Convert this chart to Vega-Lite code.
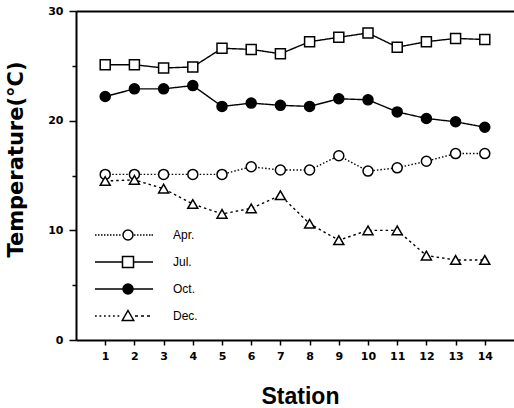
{
  "$schema": "https://vega.github.io/schema/vega-lite/v6.json",
  "autosize": "none",
  "padding": {"left": 76, "top": 11, "right": 0, "bottom": 68},
  "width": 438,
  "height": 329,
  "config": {
    "view": {"stroke": null},
    "font": "Liberation Sans",
    "axis": {"domainColor": "black", "tickColor": "black", "labelColor": "black", "titleColor": "black", "grid": false, "labelFont": "DejaVu Sans", "titleFont": "Liberation Sans"}
  },
  "data": {
    "values": [
      {"station": 1, "series": "Apr.", "temp": 15.1},
      {"station": 2, "series": "Apr.", "temp": 15.1},
      {"station": 3, "series": "Apr.", "temp": 15.1},
      {"station": 4, "series": "Apr.", "temp": 15.1},
      {"station": 5, "series": "Apr.", "temp": 15.1},
      {"station": 6, "series": "Apr.", "temp": 15.8},
      {"station": 7, "series": "Apr.", "temp": 15.5},
      {"station": 8, "series": "Apr.", "temp": 15.5},
      {"station": 9, "series": "Apr.", "temp": 16.8},
      {"station": 10, "series": "Apr.", "temp": 15.4},
      {"station": 11, "series": "Apr.", "temp": 15.7},
      {"station": 12, "series": "Apr.", "temp": 16.3},
      {"station": 13, "series": "Apr.", "temp": 17.0},
      {"station": 14, "series": "Apr.", "temp": 17.0},
      {"station": 1, "series": "Jul.", "temp": 25.1},
      {"station": 2, "series": "Jul.", "temp": 25.1},
      {"station": 3, "series": "Jul.", "temp": 24.8},
      {"station": 4, "series": "Jul.", "temp": 24.9},
      {"station": 5, "series": "Jul.", "temp": 26.6},
      {"station": 6, "series": "Jul.", "temp": 26.5},
      {"station": 7, "series": "Jul.", "temp": 26.1},
      {"station": 8, "series": "Jul.", "temp": 27.2},
      {"station": 9, "series": "Jul.", "temp": 27.6},
      {"station": 10, "series": "Jul.", "temp": 28.0},
      {"station": 11, "series": "Jul.", "temp": 26.7},
      {"station": 12, "series": "Jul.", "temp": 27.2},
      {"station": 13, "series": "Jul.", "temp": 27.5},
      {"station": 14, "series": "Jul.", "temp": 27.4},
      {"station": 1, "series": "Oct.", "temp": 22.2},
      {"station": 2, "series": "Oct.", "temp": 22.9},
      {"station": 3, "series": "Oct.", "temp": 22.9},
      {"station": 4, "series": "Oct.", "temp": 23.2},
      {"station": 5, "series": "Oct.", "temp": 21.3},
      {"station": 6, "series": "Oct.", "temp": 21.6},
      {"station": 7, "series": "Oct.", "temp": 21.4},
      {"station": 8, "series": "Oct.", "temp": 21.3},
      {"station": 9, "series": "Oct.", "temp": 22.0},
      {"station": 10, "series": "Oct.", "temp": 21.9},
      {"station": 11, "series": "Oct.", "temp": 20.8},
      {"station": 12, "series": "Oct.", "temp": 20.2},
      {"station": 13, "series": "Oct.", "temp": 19.9},
      {"station": 14, "series": "Oct.", "temp": 19.4},
      {"station": 1, "series": "Dec.", "temp": 14.5},
      {"station": 2, "series": "Dec.", "temp": 14.6},
      {"station": 3, "series": "Dec.", "temp": 13.8},
      {"station": 4, "series": "Dec.", "temp": 12.4},
      {"station": 5, "series": "Dec.", "temp": 11.5},
      {"station": 6, "series": "Dec.", "temp": 12.0},
      {"station": 7, "series": "Dec.", "temp": 13.2},
      {"station": 8, "series": "Dec.", "temp": 10.6},
      {"station": 9, "series": "Dec.", "temp": 9.1},
      {"station": 10, "series": "Dec.", "temp": 10.0},
      {"station": 11, "series": "Dec.", "temp": 10.0},
      {"station": 12, "series": "Dec.", "temp": 7.7},
      {"station": 13, "series": "Dec.", "temp": 7.3},
      {"station": 14, "series": "Dec.", "temp": 7.3}
    ]
  },
  "layer": [
    {
      "mark": {"type": "line", "color": "black", "strokeWidth": 1.4},
      "encoding": {
        "x": {
          "field": "station", "type": "quantitative",
          "scale": {"domain": [0, 15], "nice": false, "zero": false},
          "axis": {
            "orient": "bottom", "values": [1,2,3,4,5,6,7,8,9,10,11,12,13,14],
            "title": "Station", "titleFontSize": 23, "titleFontWeight": "bold",
            "titleX": 224, "titleY": 63, "titleBaseline": "alphabetic",
            "labelFontSize": 11, "labelFontWeight": "bold", "labelPadding": 5,
            "tickSize": 5, "tickWidth": 1.5, "domainWidth": 2, "labelFlush": false
          }
        },
        "y": {
          "field": "temp", "type": "quantitative",
          "scale": {"domain": [0, 30], "nice": false},
          "axis": {
            "values": [0, 5, 10, 15, 20, 25, 30],
            "labelExpr": "datum.value % 10 === 0 ? datum.label : ''",
            "title": "Temperature(°C)", "titleFont": "DejaVu Sans", "titleFontSize": 21, "titleFontWeight": "bold",
            "titleX": -60, "titleY": 148, "titleBaseline": "middle", "titleAlign": "center", "titleAngle": 270,
            "labelFontSize": 11, "labelFontWeight": "bold", "labelPadding": 6,
            "tickSize": 7, "tickWidth": 1.5, "domainWidth": 2,
            "encoding": {"ticks": {"x2": {"value": {"expr": "datum.value % 10 === 0 ? -7 : -4"}}}}
          }
        },
        "detail": {"field": "series"},
        "strokeDash": {
          "field": "series", "type": "nominal",
          "scale": {"domain": ["Apr.", "Dec.", "Jul.", "Oct."], "range": [[1.5, 2], [2.5, 3], [1, 0], [1, 0]]},
          "legend": null
        }
      }
    },
    {
      "mark": {"type": "point", "filled": true, "size": 100, "stroke": "black", "strokeWidth": 1.5, "opacity": 1},
      "encoding": {
        "x": {
          "field": "station", "type": "quantitative",
          "axis": {"orient": "top", "labels": false, "ticks": false, "title": null, "domainWidth": 2}
        },
        "y": {"field": "temp", "type": "quantitative"},
        "shape": {
          "field": "series", "type": "nominal",
          "scale": {"domain": ["Oct.", "Apr.", "Dec.", "Jul."], "range": ["circle", "circle", "triangle-up", "square"]},
          "legend": null
        },
        "fill": {
          "condition": {"test": "datum.series === 'Oct.'", "value": "black"},
          "value": "white"
        }
      }
    },
    {
      "transform": [{"filter": "false"}],
      "mark": {"type": "point", "filled": true, "size": 100, "stroke": "black", "strokeWidth": 1.5},
      "encoding": {
        "shape": {
          "field": "series", "type": "nominal",
          "scale": {
            "domain": ["Apr.", "Jul.", "Oct.", "Dec."],
            "range": [
              "M-6.6,0h0.3M-6,0h0.3M-5.4,0h0.3M-4.8,0h0.3M-4.2,0h0.3M-3.6,0h0.3M-3,0h0.3M-2.4,0h0.3M-1.8,0h0.3M1.2,0h0.3M1.8,0h0.3M2.4,0h0.3M3,0h0.3M3.6,0h0.3M4.2,0h0.3M4.7,0h0.3M1,0A1,1 0 1,1 -1,0A1,1 0 1,1 1,0Z",
              "M-6.6,0H-1.1M1.1,0H5M-1.1,-1.1H1.1V1.1H-1.1Z",
              "M-6.6,0H-1M1,0H5M1,0A1,1 0 1,1 -1,0A1,1 0 1,1 1,0Z",
              "M-6.6,0h0.35M-5.7,0h0.35M-4.8,0h0.35M-3.9,0h0.35M-3,0h0.35M-2.1,0h0.35M1.4,0h0.6M2.6,0h0.6M3.8,0h0.6M0,-1.1L1.15,0.9H-1.15Z"
            ]
          },
          "legend": {
            "orient": "none", "legendX": 46, "legendY": 218, "padding": 0, "title": null,
            "rowPadding": 10, "symbolSize": 100, "symbolStrokeWidth": 1.5,
            "labelOffset": 39, "labelFontSize": 12, "labelFont": "Liberation Sans", "labelColor": "black",
            "symbolStrokeColor": "black",
            "encoding": {
              "symbols": {
                "fill": {"value": {"expr": "datum.value === 'Oct.' ? 'black' : 'white'"}},
                "stroke": {"value": "black"},
                "strokeWidth": {"value": 1.5},
                "size": {"value": 100},
                "opacity": {"value": 1}
              }
            }
          }
        }
      }
    }
  ],
  "resolve": {"axis": {"x": "independent"}, "scale": {"shape": "independent"}}
}
